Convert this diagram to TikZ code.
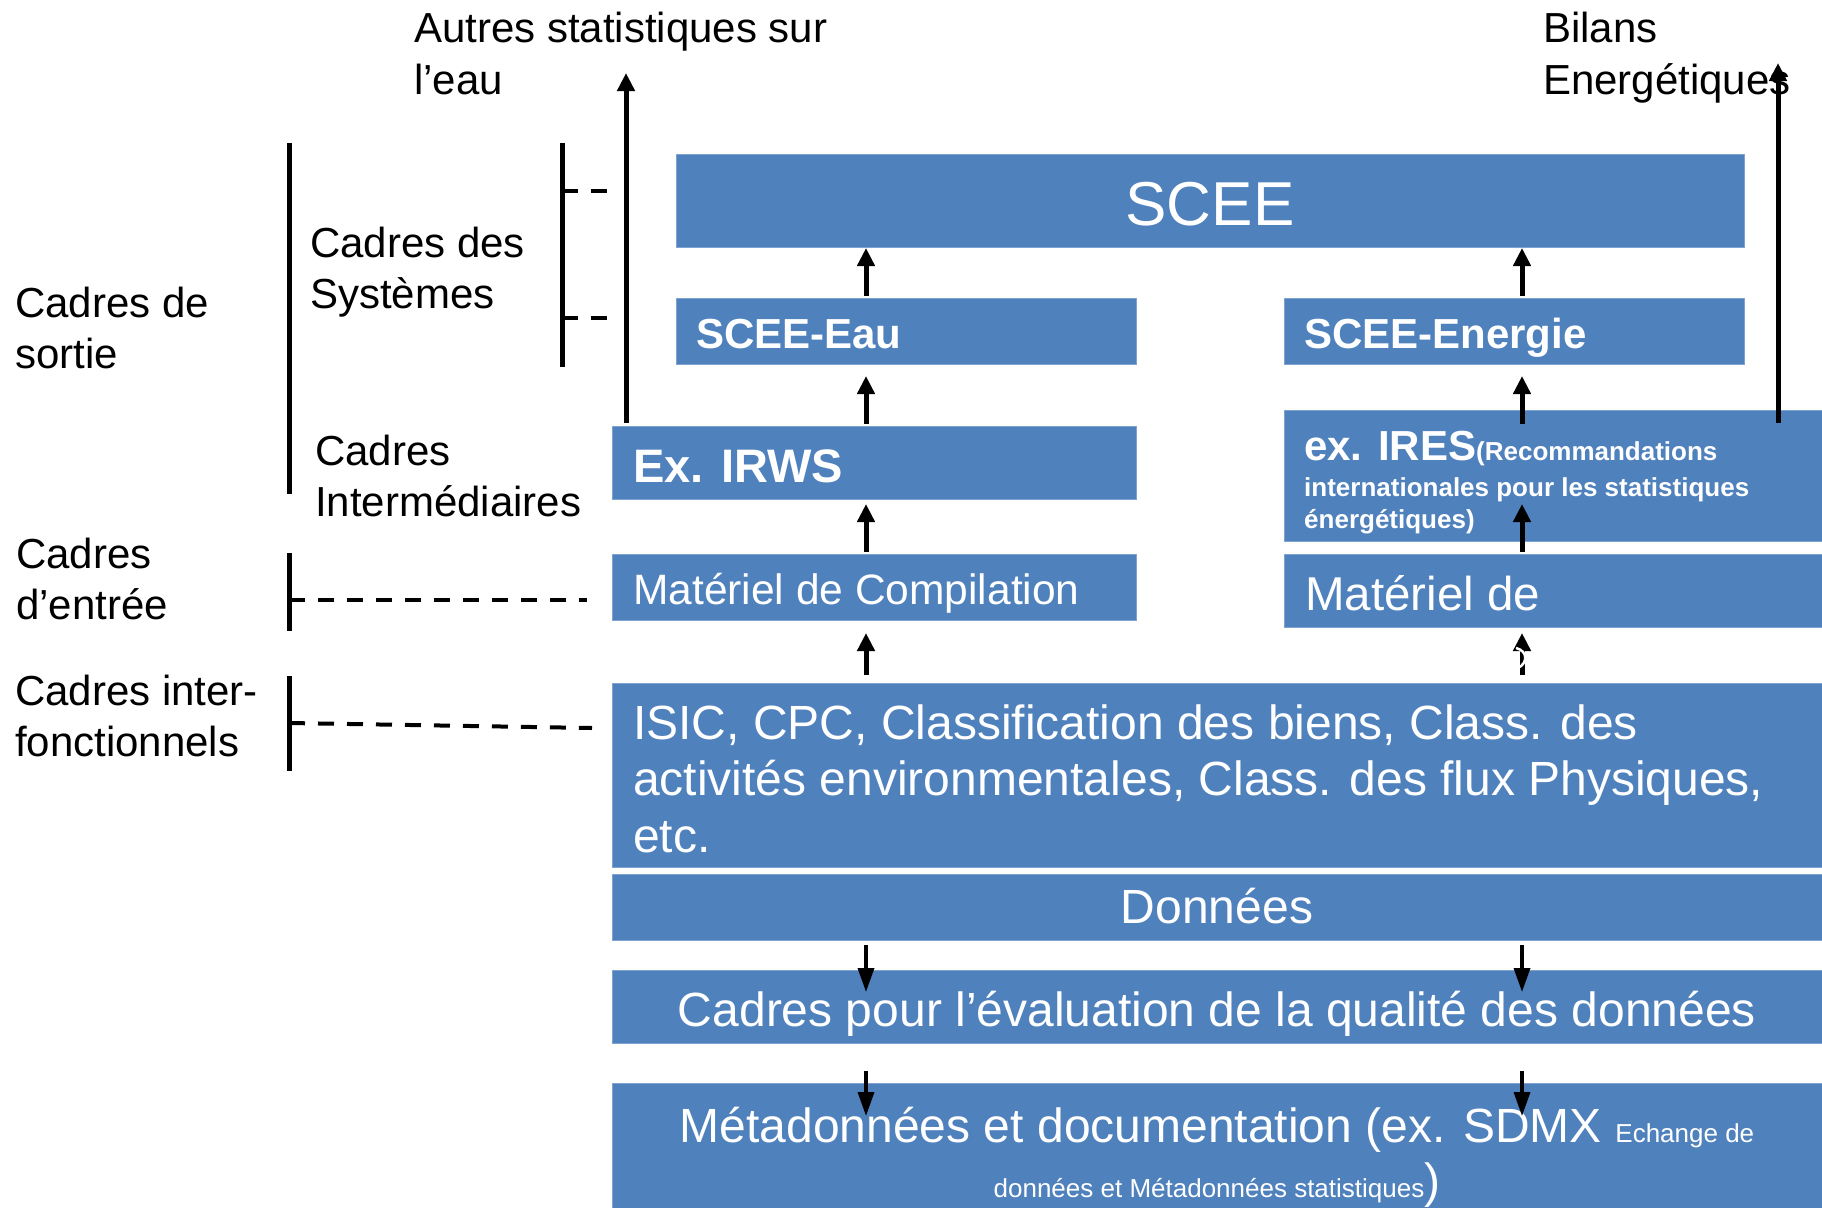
\documentclass[tikz,border=0pt]{standalone}
\usepackage{fontspec}
\setmainfont{Liberation Sans}
\usetikzlibrary{arrows.meta}
\definecolor{boxblue}{HTML}{4F81BD}
\definecolor{boxedge}{HTML}{7EA2D2}
\begin{document}
\begin{tikzpicture}[x=1pt,y=-1pt,
  box/.style={rectangle, fill=boxblue, draw=boxedge, line width=1pt, inner sep=0pt, outer sep=0pt, anchor=north west},
  lbl/.style={inner sep=0pt, anchor=base west, font=\fontsize{42}{51.5}\selectfont},
  wt/.style={inner sep=0pt, text=white},
  uparr/.style={line width=5pt, -{Triangle[length=18pt,width=17pt]}},
  dnarr/.style={line width=3.5pt, -{Triangle[length=24pt,width=16pt]}},
  bracket/.style={line width=5pt},
  dashl/.style={line width=4pt, dash pattern=on 16pt off 13pt},
]
\useasboundingbox (0,0) rectangle (1822,1207);
\clip (0,0) rectangle (1822,1207);

% boxes
\node[box, minimum width=1068pt, minimum height=93pt] (scee) at (676,154) {};
\node[box, minimum width=460pt, minimum height=66pt] (sceeeau) at (676,298) {};
\node[box, minimum width=460pt, minimum height=66pt] (sceeen) at (1284,298) {};
\node[box, minimum width=524pt, minimum height=73pt] (irws) at (612,426) {};
\node[box, minimum width=560pt, minimum height=131pt] (ires) at (1284,410) {};
\node[box, minimum width=524pt, minimum height=66pt] (matL) at (612,554) {};
\node[box, minimum width=560pt, minimum height=73pt] (matR) at (1284,554) {};
\node[box, minimum width=1230pt, minimum height=184pt] (isic) at (612,683) {};
\node[box, minimum width=1230pt, minimum height=66pt] (donnees) at (612,874) {};
\node[box, minimum width=1230pt, minimum height=73pt] (qual) at (612,970) {};
\node[box, minimum width=1230pt, minimum height=140pt] (meta) at (612,1083) {};

% box texts
\node[wt, anchor=base, font=\fontsize{62}{70}\selectfont] (sceeT) at (1210,225) {SCEE};
\node[wt, anchor=base west, font=\bfseries\fontsize{42}{50}\selectfont] (eauT) at (696,348) {SCEE-Eau};
\node[wt, anchor=base west, font=\bfseries\fontsize{42}{50}\selectfont] (enT) at (1304,348) {SCEE-Energie};
\node[wt, anchor=base west, font=\bfseries\fontsize{47}{54}\selectfont] (irwsT) at (633,482) {Ex. IRWS};
\node[wt, anchor=base west, font=\bfseries\fontsize{42}{50}\selectfont] (iresT1) at (1304,460) {ex. IRES{\fontsize{26}{30}\selectfont(Recommandations}};
\node[wt, anchor=base west, font=\bfseries\fontsize{26}{30}\selectfont] (iresT2) at (1304,496) {internationales pour les statistiques};
\node[wt, anchor=base west, font=\bfseries\fontsize{26}{30}\selectfont] (iresT3) at (1304,528) {énergétiques)};
\node[wt, anchor=base west, font=\fontsize{42.5}{50}\selectfont] (matLT) at (633,604) {Matériel de Compilation};
\node[wt, anchor=base west, font=\fontsize{47.5}{54}\selectfont] (matRT) at (1305,610) {Matériel de};
\node[wt, anchor=base west, font=\fontsize{48}{56.5}\selectfont] (isicT) at (633,739)
  {\begin{tabular}[t]{@{}l@{}}ISIC, CPC, Classification des biens, Class. des\\activités environmentales, Class. des flux Physiques,\\etc.\end{tabular}};
\node[wt, anchor=base, font=\fontsize{48}{56}\selectfont] (donT) at (1217,923) {Données};
\node[wt, anchor=base, font=\fontsize{48}{56}\selectfont] (qualT) at (1217,1026) {Cadres pour l’évaluation de la qualité des données};
\node[wt, anchor=base, font=\fontsize{48}{56}\selectfont] (metaT1) at (1217,1142) {Métadonnées et documentation (ex. SDMX {\fontsize{26}{30}\selectfont Echange de}};
\node[wt, anchor=base, font=\fontsize{48}{56}\selectfont] (metaT2) at (1217,1197) {{\fontsize{26}{30}\selectfont données et Métadonnées statistiques})};

% left labels
\node[lbl] (autresT) at (414,43) {\begin{tabular}[t]{@{}l@{}}Autres statistiques sur\\l’eau\end{tabular}};
\node[lbl] (bilansT) at (1543,43) {\begin{tabular}[t]{@{}l@{}}Bilans\\Energétiques\end{tabular}};
\node[lbl] (systT) at (310,257) {\begin{tabular}[t]{@{}l@{}}Cadres des\\Systèmes\end{tabular}};
\node[lbl] (sortieT) at (15,317) {\begin{tabular}[t]{@{}l@{}}Cadres de\\sortie\end{tabular}};
\node[lbl] (interT) at (315,465) {\begin{tabular}[t]{@{}l@{}}Cadres\\Intermédiaires\end{tabular}};
\node[lbl] (entreeT) at (16,568) {\begin{tabular}[t]{@{}l@{}}Cadres\\d’entrée\end{tabular}};
\node[lbl] (fonctT) at (15,705) {\begin{tabular}[t]{@{}l@{}}Cadres inter-\\fonctionnels\end{tabular}};

% brackets
\coordinate (b1t) at (289,143); \coordinate (b1b) at (289,494);
\coordinate (b2t) at (562,143); \coordinate (b2b) at (562,367);
\coordinate (b3t) at (289,553); \coordinate (b3b) at (289,631);
\coordinate (b4t) at (289,676); \coordinate (b4b) at (289,771);
\draw[bracket] (b1t) -- (b1b);
\draw[bracket] (b2t) -- (b2b);
\draw[bracket] (b3t) -- (b3b);
\draw[bracket] (b4t) -- (b4b);
\coordinate (d1a) at (562,191); \coordinate (d1b) at (607,191);
\coordinate (d2a) at (562,318); \coordinate (d2b) at (607,318);
\coordinate (d3a) at (289,600); \coordinate (d3b) at (587,600);
\coordinate (d4a) at (289,723); \coordinate (d4b) at (592,728);
\draw[dashl] (d1a) -- (d1b);
\draw[dashl] (d2a) -- (d2b);
\draw[dashl] (d3a) -- (d3b);
\draw[dashl] (d4a) -- (d4b);

% arrows, left column
\coordinate (L1s) at (866,296); \coordinate (L1e) at (866,248);
\coordinate (L2s) at (866,424); \coordinate (L2e) at (866,376);
\coordinate (L3s) at (866,552); \coordinate (L3e) at (866,504);
\coordinate (L4s) at (866,675); \coordinate (L4e) at (866,633);
\draw[uparr] (L1s) -- (L1e);
\draw[uparr] (L2s) -- (L2e);
\draw[uparr] (L3s) -- (L3e);
\draw[uparr] (L4s) -- (L4e);
% arrows, right column
\coordinate (R1s) at (1522,296); \coordinate (R1e) at (1522,248);
\coordinate (R2s) at (1522,424); \coordinate (R2e) at (1522,376);
\coordinate (R3s) at (1522,552); \coordinate (R3e) at (1522,504);
\coordinate (R4s) at (1522,675); \coordinate (R4e) at (1522,633);
\draw[uparr] (R1s) -- (R1e);
\draw[uparr] (R2s) -- (R2e);
\draw[uparr] (R3s) -- (R3e);
\draw[uparr] (R4s) -- (R4e);
\draw[white, line width=2.5pt] (1516,648) .. controls (1528,651) and (1528,663) .. (1518,668);
% long arrows
\coordinate (W1s) at (626,423); \coordinate (W1e) at (626,73);
\coordinate (E1s) at (1778,423); \coordinate (E1e) at (1778,63);
\draw[uparr] (W1s) -- (W1e);
\draw[uparr] (E1s) -- (E1e);
% down arrows
\coordinate (D1s) at (866,945); \coordinate (D1e) at (866,992);
\coordinate (D2s) at (1522,945); \coordinate (D2e) at (1522,992);
\coordinate (D3s) at (866,1071); \coordinate (D3e) at (866,1116);
\coordinate (D4s) at (1522,1071); \coordinate (D4e) at (1522,1116);
\draw[dnarr] (D1s) -- (D1e);
\draw[dnarr] (D2s) -- (D2e);
\draw[dnarr] (D3s) -- (D3e);
\draw[dnarr] (D4s) -- (D4e);
\end{tikzpicture}
\end{document}
